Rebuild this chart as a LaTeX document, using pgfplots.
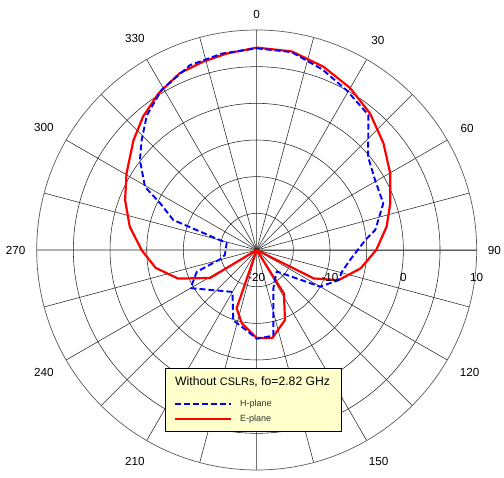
\documentclass[border=0pt]{standalone}
\usepackage{fontspec}
\setmainfont{Liberation Sans}
\usepackage{pgfplots}
\usepackage{pgfplotstable}
\pgfplotsset{compat=1.18}
\usepgfplotslibrary{polar}
\definecolor{legfill}{RGB}{255,255,204}

% angle (deg, clockwise from top), level (dB)
\pgfplotstableread{
ang db
0 7.6
10 7.5
20 6.6
30 5.5
39.7 4.2
49.9 2.6
60.1 1.0
70.7 -0.7
79.8 -2.0
90 -3.7
100 -5.6
110.2 -8.1
116.5 -11.3
125 -20
140 -20
148 -13
158 -9.7
170 -7.8
180 -8.0
191.5 -9.8
199 -11.6
210 -20
230 -20
239 -12.6
250 -8.6
260 -6.0
270 -4.3
280.4 -2.4
290.8 -0.8
300.5 0.6
311.7 2.5
319.6 3.9
327.9 5.2
336.5 6.3
344.2 6.7
351.3 7.1
360 7.6
}\Eplane

\pgfplotstableread{
ang db
0 7.5
10 7.4
20 6.2
29.4 5.0
39.6 3.9
50.1 -0.2
59.4 -1.25
69.8 -1.6
80.4 -3.6
84.7 -5.1
96.1 -7.2
104.3 -8.0
110.2 -8.1
120 -10.0
137 -16.0
156.5 -14.3
169 -8.1
180 -7.9
186 -8.8
198.5 -9.9
210 -13.4
240 -9.6
250 -11.3
256 -14.9
261 -15.6
283 -15.8
289.8 -7.9
295.8 -5.4
299.5 -2.5
307.6 0.1
313.7 1.7
320.8 3.7
329.3 5.4
340.2 6.8
350 7.2
360 7.5
}\Hplane

\begin{document}
\begin{tikzpicture}
\begin{polaraxis}[
  at={(0,0)}, anchor=center,
  scale only axis, width=440pt, height=440pt,
  xmin=0, xmax=360, ymin=0, ymax=30,
  xtick={0,30,...,330},
  xticklabels={90,60,30,0,330,300,270,240,210,{},150,120},
  minor xtick={15,45,...,345},
  ytick={5,10,...,25},
  yticklabels={},
  grid=both,
  major grid style={black!85, line width=0.55pt},
  minor grid style={black!85, line width=0.55pt},
  axis line style={black!65, line width=0.7pt},
  tick style={draw=none},
  xticklabel style={font=\fontsize{11.7}{14}\selectfont, inner sep=11pt},
  /pgf/number format/assume math mode=true,
  x filter/.expression={90-x},
  y filter/.expression={y+20},
  clip=false,
]
\addplot[red, line width=2.2pt, line join=round] table[x=ang, y=db] {\Eplane};
\addplot[blue, line width=1.9pt, dash pattern=on 6pt off 3pt, line join=round] table[x=ang, y=db] {\Hplane};
\end{polaraxis}

% radial scale labels
\foreach \r/\t in {0/-20, 73.3/-10, 146.7/0, 220/10}
  \node[font=\fontsize{11.7}{14}\selectfont, inner sep=0] at (\r pt,-27pt) {\t};

% legend box
\draw[fill=legfill, draw=black, line width=0.5pt] (-91.7pt,-118pt) rectangle (84.3pt,-181pt);
\node[anchor=west, inner sep=0, font=\fontsize{12.2}{14}\selectfont] at (-81.7pt,-131.7pt)
  {Without {\fontsize{10.9}{12}\selectfont CSLRs}, fo=2.82 GHz};
\draw[blue, line width=1.9pt, dash pattern=on 6pt off 3pt] (-81.7pt,-154.3pt) -- (-26pt,-154.3pt);
\draw[red, line width=2.2pt] (-81.7pt,-169.3pt) -- (-26pt,-169.3pt);
\node[anchor=west, inner sep=0, font=\fontsize{9}{10}\selectfont, text=black!80] at (-16.7pt,-154.3pt) {H-plane};
\node[anchor=west, inner sep=0, font=\fontsize{9}{10}\selectfont, text=black!80] at (-16.7pt,-169.3pt) {E-plane};

\pgfresetboundingbox
\useasboundingbox (-256.7pt,-228pt) rectangle (247.3pt,250pt);
\end{tikzpicture}
\end{document}
